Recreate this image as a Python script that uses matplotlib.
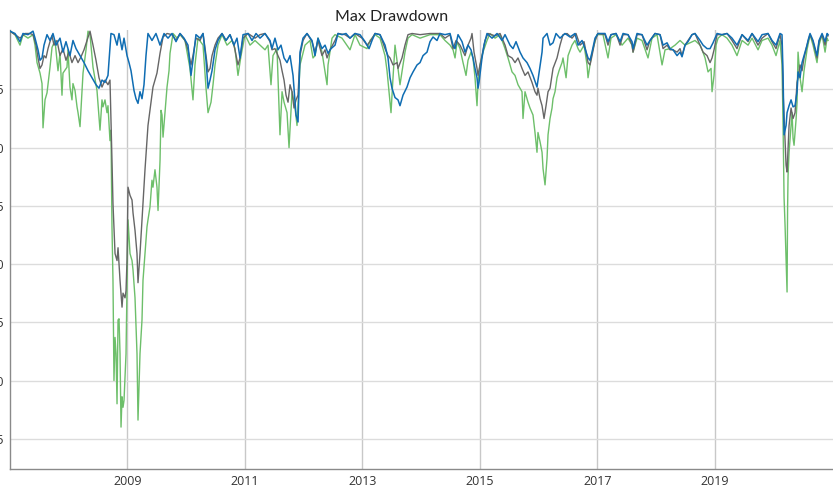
import matplotlib
matplotlib.use("Agg")
import matplotlib.pyplot as plt

# ---- data (decimal year, drawdown fraction) ----
blue_dates = [2007.000, 2007.085, 2007.170, 2007.221, 2007.306, 2007.392, 2007.426, 2007.477, 2007.511, 2007.545,
              2007.579, 2007.630, 2007.681, 2007.732, 2007.783, 2007.851, 2007.902, 2007.953, 2008.021, 2008.072,
              2008.124, 2008.192, 2008.260, 2008.328, 2008.396, 2008.464, 2008.515, 2008.566, 2008.617, 2008.668,
              2008.719, 2008.770, 2008.822, 2008.856, 2008.907, 2008.941, 2008.992, 2009.026, 2009.060, 2009.111,
              2009.145, 2009.179, 2009.213, 2009.247, 2009.281, 2009.315, 2009.349, 2009.417, 2009.485, 2009.554,
              2009.622, 2009.690, 2009.758, 2009.826, 2009.894, 2009.962, 2010.030, 2010.081, 2010.115, 2010.166,
              2010.235, 2010.286, 2010.337, 2010.371, 2010.405, 2010.439, 2010.490, 2010.541, 2010.609, 2010.677,
              2010.745, 2010.813, 2010.864, 2010.916, 2010.967, 2011.052, 2011.120, 2011.188, 2011.256, 2011.341,
              2011.426, 2011.460, 2011.511, 2011.562, 2011.613, 2011.665, 2011.716, 2011.767, 2011.818, 2011.869,
              2011.903, 2011.937, 2011.988, 2012.056, 2012.141, 2012.192, 2012.243, 2012.311, 2012.363, 2012.414,
              2012.465, 2012.533, 2012.584, 2012.652, 2012.720, 2012.788, 2012.873, 2012.958, 2013.044, 2013.112,
              2013.163, 2013.214, 2013.299, 2013.384, 2013.435, 2013.469, 2013.503, 2013.554, 2013.605, 2013.639,
              2013.690, 2013.758, 2013.810, 2013.861, 2013.929, 2013.980, 2014.031, 2014.099, 2014.150, 2014.201,
              2014.269, 2014.320, 2014.405, 2014.491, 2014.542, 2014.576, 2014.627, 2014.695, 2014.746, 2014.797,
              2014.848, 2014.882, 2014.916, 2014.950, 2014.967, 2014.984, 2015.035, 2015.069, 2015.120, 2015.206,
              2015.291, 2015.376, 2015.427, 2015.512, 2015.563, 2015.614, 2015.682, 2015.733, 2015.801, 2015.852,
              2015.903, 2015.971, 2015.988, 2016.023, 2016.057, 2016.074, 2016.142, 2016.193, 2016.244, 2016.295,
              2016.363, 2016.448, 2016.533, 2016.618, 2016.670, 2016.738, 2016.789, 2016.840, 2016.874, 2016.908,
              2016.959, 2017.010, 2017.129, 2017.180, 2017.231, 2017.317, 2017.385, 2017.436, 2017.521, 2017.589,
              2017.606, 2017.674, 2017.759, 2017.844, 2017.895, 2017.980, 2018.066, 2018.117, 2018.185, 2018.236,
              2018.287, 2018.355, 2018.406, 2018.440, 2018.491, 2018.542, 2018.610, 2018.661, 2018.747, 2018.798,
              2018.866, 2018.917, 2018.968, 2019.036, 2019.121, 2019.206, 2019.291, 2019.376, 2019.462, 2019.564,
              2019.632, 2019.734, 2019.802, 2019.904, 2019.972, 2020.040, 2020.108, 2020.142, 2020.160, 2020.177,
              2020.211, 2020.228, 2020.262, 2020.296, 2020.330, 2020.364, 2020.398, 2020.415, 2020.449, 2020.483,
              2020.517, 2020.568, 2020.585, 2020.619, 2020.670, 2020.738, 2020.772, 2020.824, 2020.875, 2020.909,
              2020.926]
blue_dd = [0, -0.002, -0.009, -0.002, -0.003, 0, -0.006, -0.016, -0.025, -0.023,
           -0.012, -0.003, -0.008, -0.002, -0.012, -0.006, -0.018, -0.009, -0.021, -0.008,
           -0.015, -0.021, -0.027, -0.034, -0.040, -0.046, -0.049, -0.042, -0.044, -0.038,
           -0.002, -0.003, -0.012, -0.002, -0.016, -0.006, -0.021, -0.027, -0.034, -0.051,
           -0.058, -0.062, -0.052, -0.058, -0.046, -0.021, -0.002, -0.008, -0.002, -0.012,
           -0.002, -0.006, -0.002, -0.009, -0.002, -0.006, -0.012, -0.038, -0.025, -0.003,
           -0.006, -0.002, -0.025, -0.049, -0.042, -0.034, -0.016, -0.008, -0.002, -0.008,
           -0.003, -0.012, -0.006, -0.023, -0.003, -0.002, -0.008, -0.002, -0.006, -0.002,
           -0.008, -0.015, -0.006, -0.016, -0.012, -0.023, -0.027, -0.021, -0.038, -0.072,
           -0.078, -0.018, -0.006, -0.002, -0.008, -0.021, -0.006, -0.015, -0.012, -0.019,
           -0.015, -0.012, -0.002, -0.003, -0.002, -0.006, -0.002, -0.003, -0.009, -0.015,
           -0.008, -0.002, -0.003, -0.012, -0.023, -0.040, -0.049, -0.057, -0.059, -0.064,
           -0.055, -0.048, -0.040, -0.035, -0.029, -0.027, -0.021, -0.018, -0.009, -0.005,
           -0.008, -0.002, -0.003, -0.002, -0.012, -0.015, -0.003, -0.009, -0.018, -0.012,
           -0.016, -0.023, -0.032, -0.040, -0.049, -0.044, -0.023, -0.012, -0.002, -0.006,
           -0.002, -0.008, -0.003, -0.012, -0.015, -0.009, -0.018, -0.023, -0.027, -0.032,
           -0.038, -0.048, -0.042, -0.029, -0.018, -0.006, -0.002, -0.012, -0.010, -0.002,
           -0.006, -0.002, -0.005, -0.002, -0.012, -0.008, -0.015, -0.023, -0.025, -0.018,
           -0.006, -0.002, -0.002, -0.009, -0.003, -0.002, -0.009, -0.002, -0.003, -0.009,
           -0.015, -0.002, -0.003, -0.012, -0.008, -0.002, -0.003, -0.012, -0.010, -0.015,
           -0.016, -0.021, -0.018, -0.022, -0.012, -0.009, -0.003, -0.002, -0.008, -0.012,
           -0.015, -0.015, -0.010, -0.002, -0.003, -0.002, -0.006, -0.012, -0.003, -0.008,
           -0.002, -0.009, -0.003, -0.002, -0.008, -0.012, -0.002, -0.003, -0.038, -0.089,
           -0.081, -0.070, -0.064, -0.059, -0.065, -0.064, -0.052, -0.035, -0.040, -0.027,
           -0.021, -0.012, -0.008, -0.002, -0.008, -0.021, -0.008, -0.002, -0.009, -0.002,
           -0.003]

gray_dates = [2007.000, 2007.170, 2007.255, 2007.340, 2007.392, 2007.443, 2007.477, 2007.511, 2007.545, 2007.579,
              2007.613, 2007.647, 2007.681, 2007.715, 2007.749, 2007.800, 2007.851, 2007.902, 2007.953, 2008.004,
              2008.055, 2008.107, 2008.158, 2008.209, 2008.260, 2008.311, 2008.362, 2008.413, 2008.464, 2008.515,
              2008.566, 2008.617, 2008.668, 2008.702, 2008.719, 2008.736, 2008.753, 2008.788, 2008.822, 2008.839,
              2008.873, 2008.907, 2008.924, 2008.958, 2008.975, 2008.992, 2009.009, 2009.043, 2009.077, 2009.094,
              2009.128, 2009.162, 2009.179, 2009.213, 2009.247, 2009.298, 2009.332, 2009.349, 2009.383, 2009.434,
              2009.502, 2009.554, 2009.605, 2009.673, 2009.758, 2009.826, 2009.894, 2009.979, 2010.030, 2010.081,
              2010.115, 2010.166, 2010.235, 2010.286, 2010.337, 2010.371, 2010.405, 2010.439, 2010.490, 2010.541,
              2010.609, 2010.677, 2010.745, 2010.813, 2010.881, 2010.916, 2010.967, 2011.052, 2011.171, 2011.256,
              2011.341, 2011.426, 2011.460, 2011.511, 2011.562, 2011.596, 2011.631, 2011.665, 2011.699, 2011.733,
              2011.767, 2011.801, 2011.835, 2011.869, 2011.903, 2011.937, 2011.988, 2012.056, 2012.141, 2012.192,
              2012.243, 2012.311, 2012.363, 2012.397, 2012.448, 2012.533, 2012.584, 2012.703, 2012.788, 2012.873,
              2012.992, 2013.078, 2013.129, 2013.214, 2013.299, 2013.384, 2013.435, 2013.469, 2013.520, 2013.588,
              2013.605, 2013.673, 2013.724, 2013.775, 2013.844, 2013.980, 2014.150, 2014.320, 2014.405, 2014.491,
              2014.542, 2014.593, 2014.661, 2014.746, 2014.797, 2014.848, 2014.865, 2014.899, 2014.950, 2014.967,
              2015.001, 2015.035, 2015.086, 2015.137, 2015.257, 2015.342, 2015.427, 2015.478, 2015.546, 2015.597,
              2015.648, 2015.716, 2015.767, 2015.818, 2015.886, 2015.937, 2015.971, 2015.988, 2016.023, 2016.057,
              2016.091, 2016.125, 2016.159, 2016.193, 2016.244, 2016.312, 2016.363, 2016.414, 2016.483, 2016.567,
              2016.635, 2016.704, 2016.772, 2016.840, 2016.874, 2016.908, 2016.959, 2017.010, 2017.129, 2017.180,
              2017.231, 2017.317, 2017.385, 2017.436, 2017.521, 2017.589, 2017.606, 2017.674, 2017.759, 2017.844,
              2017.895, 2017.980, 2018.066, 2018.117, 2018.185, 2018.236, 2018.287, 2018.355, 2018.406, 2018.440,
              2018.491, 2018.542, 2018.610, 2018.661, 2018.747, 2018.798, 2018.866, 2018.917, 2018.951, 2018.985,
              2019.036, 2019.121, 2019.206, 2019.291, 2019.376, 2019.462, 2019.564, 2019.632, 2019.734, 2019.802,
              2019.904, 2019.972, 2020.040, 2020.108, 2020.142, 2020.160, 2020.194, 2020.211, 2020.228, 2020.245,
              2020.262, 2020.296, 2020.330, 2020.364, 2020.398, 2020.415, 2020.449, 2020.483, 2020.517, 2020.568,
              2020.619, 2020.670, 2020.738, 2020.772, 2020.824, 2020.875, 2020.909, 2020.926]
gray_dd = [0, -0.006, -0.002, -0.002, -0.003, -0.012, -0.023, -0.032, -0.029, -0.021,
           -0.023, -0.015, -0.009, -0.004, -0.012, -0.008, -0.021, -0.015, -0.025, -0.018,
           -0.027, -0.021, -0.027, -0.022, -0.016, -0.008, 0, -0.012, -0.025, -0.040,
           -0.048, -0.042, -0.046, -0.042, -0.076, -0.111, -0.148, -0.191, -0.197, -0.186,
           -0.214, -0.237, -0.225, -0.229, -0.223, -0.197, -0.134, -0.141, -0.145, -0.156,
           -0.171, -0.191, -0.216, -0.191, -0.162, -0.119, -0.094, -0.081, -0.068, -0.048,
           -0.036, -0.019, -0.005, -0.002, -0.003, -0.008, -0.002, -0.008, -0.016, -0.029,
           -0.021, -0.006, -0.008, -0.002, -0.021, -0.035, -0.032, -0.021, -0.012, -0.006,
           -0.002, -0.008, -0.003, -0.012, -0.029, -0.023, -0.006, -0.002, -0.006, -0.003,
           -0.002, -0.009, -0.016, -0.015, -0.021, -0.025, -0.034, -0.042, -0.055, -0.061,
           -0.046, -0.052, -0.066, -0.059, -0.055, -0.021, -0.008, -0.002, -0.009, -0.018,
           -0.008, -0.021, -0.016, -0.023, -0.016, -0.008, -0.002, -0.003, -0.006, -0.002,
           -0.006, -0.012, -0.009, -0.002, -0.003, -0.015, -0.021, -0.023, -0.029, -0.027,
           -0.032, -0.023, -0.012, -0.003, -0.002, -0.003, -0.002, -0.002, -0.006, -0.003,
           -0.015, -0.008, -0.012, -0.021, -0.012, -0.006, -0.002, -0.018, -0.032, -0.038,
           -0.029, -0.021, -0.008, -0.002, -0.004, -0.002, -0.012, -0.021, -0.023, -0.027,
           -0.023, -0.032, -0.038, -0.035, -0.044, -0.052, -0.055, -0.049, -0.058, -0.064,
           -0.075, -0.064, -0.052, -0.049, -0.032, -0.023, -0.012, -0.003, -0.002, -0.006,
           -0.002, -0.012, -0.009, -0.027, -0.029, -0.021, -0.008, -0.002, -0.003, -0.012,
           -0.003, -0.002, -0.012, -0.003, -0.003, -0.012, -0.018, -0.003, -0.003, -0.016,
           -0.008, -0.002, -0.003, -0.015, -0.012, -0.016, -0.016, -0.018, -0.015, -0.021,
           -0.012, -0.008, -0.003, -0.002, -0.012, -0.018, -0.021, -0.027, -0.023, -0.016,
           -0.003, -0.003, -0.002, -0.008, -0.015, -0.003, -0.009, -0.002, -0.012, -0.006,
           -0.002, -0.009, -0.015, -0.003, -0.012, -0.052, -0.095, -0.115, -0.121, -0.102,
           -0.081, -0.066, -0.075, -0.070, -0.044, -0.040, -0.029, -0.034, -0.023, -0.012,
           -0.003, -0.009, -0.023, -0.009, -0.003, -0.012, -0.003, -0.004]

green_dates = [2007.000, 2007.085, 2007.170, 2007.221, 2007.306, 2007.392, 2007.426, 2007.460, 2007.511, 2007.545,
               2007.562, 2007.596, 2007.630, 2007.681, 2007.715, 2007.766, 2007.800, 2007.817, 2007.851, 2007.885,
               2007.902, 2007.970, 2007.987, 2008.021, 2008.055, 2008.072, 2008.107, 2008.141, 2008.158, 2008.192,
               2008.226, 2008.243, 2008.294, 2008.328, 2008.362, 2008.413, 2008.481, 2008.532, 2008.566, 2008.583,
               2008.617, 2008.651, 2008.668, 2008.702, 2008.719, 2008.736, 2008.753, 2008.770, 2008.788, 2008.805,
               2008.822, 2008.839, 2008.856, 2008.873, 2008.890, 2008.907, 2008.924, 2008.941, 2008.975, 2008.992,
               2009.009, 2009.043, 2009.077, 2009.094, 2009.128, 2009.162, 2009.179, 2009.213, 2009.247, 2009.264,
               2009.298, 2009.332, 2009.349, 2009.383, 2009.417, 2009.434, 2009.468, 2009.502, 2009.520, 2009.554,
               2009.571, 2009.588, 2009.605, 2009.639, 2009.673, 2009.707, 2009.724, 2009.758, 2009.775, 2009.843,
               2009.894, 2009.979, 2010.064, 2010.115, 2010.149, 2010.200, 2010.286, 2010.337, 2010.371, 2010.422,
               2010.456, 2010.490, 2010.541, 2010.609, 2010.694, 2010.779, 2010.830, 2010.881, 2010.933, 2011.001,
               2011.086, 2011.171, 2011.256, 2011.341, 2011.392, 2011.443, 2011.477, 2011.545, 2011.596, 2011.631,
               2011.665, 2011.716, 2011.750, 2011.801, 2011.852, 2011.886, 2011.937, 2012.022, 2012.107, 2012.158,
               2012.192, 2012.243, 2012.311, 2012.363, 2012.397, 2012.414, 2012.482, 2012.533, 2012.652, 2012.788,
               2012.873, 2012.958, 2013.078, 2013.129, 2013.214, 2013.299, 2013.384, 2013.418, 2013.452, 2013.486,
               2013.520, 2013.554, 2013.588, 2013.605, 2013.639, 2013.673, 2013.724, 2013.775, 2013.844, 2013.980,
               2014.150, 2014.320, 2014.405, 2014.491, 2014.542, 2014.576, 2014.610, 2014.661, 2014.712, 2014.763,
               2014.797, 2014.848, 2014.882, 2014.916, 2014.950, 2014.967, 2015.001, 2015.052, 2015.120, 2015.172,
               2015.257, 2015.342, 2015.427, 2015.478, 2015.546, 2015.597, 2015.648, 2015.716, 2015.733, 2015.767,
               2015.818, 2015.852, 2015.903, 2015.937, 2015.971, 2015.988, 2016.023, 2016.057, 2016.074, 2016.108,
               2016.142, 2016.159, 2016.193, 2016.227, 2016.244, 2016.278, 2016.312, 2016.346, 2016.397, 2016.414,
               2016.466, 2016.500, 2016.567, 2016.618, 2016.670, 2016.704, 2016.772, 2016.823, 2016.840, 2016.891,
               2016.925, 2016.993, 2017.095, 2017.180, 2017.231, 2017.317, 2017.419, 2017.521, 2017.589, 2017.606,
               2017.674, 2017.759, 2017.861, 2017.929, 2018.014, 2018.100, 2018.151, 2018.236, 2018.321, 2018.406,
               2018.491, 2018.576, 2018.661, 2018.747, 2018.781, 2018.832, 2018.883, 2018.934, 2018.951, 2018.985,
               2019.019, 2019.053, 2019.121, 2019.206, 2019.291, 2019.376, 2019.462, 2019.564, 2019.632, 2019.734,
               2019.802, 2019.904, 2019.972, 2020.040, 2020.108, 2020.142, 2020.160, 2020.177, 2020.194, 2020.211,
               2020.228, 2020.237, 2020.245, 2020.262, 2020.296, 2020.313, 2020.330, 2020.347, 2020.381, 2020.398,
               2020.415, 2020.449, 2020.483, 2020.517, 2020.568, 2020.619, 2020.670, 2020.738, 2020.772, 2020.824,
               2020.875, 2020.909, 2020.926]
green_dd = [0, -0.003, -0.012, -0.003, -0.006, -0.003, -0.012, -0.027, -0.036, -0.045,
            -0.083, -0.059, -0.053, -0.031, -0.014, -0.008, -0.025, -0.034, -0.019, -0.055,
            -0.036, -0.031, -0.016, -0.048, -0.059, -0.045, -0.051, -0.065, -0.070, -0.082,
            -0.051, -0.036, -0.016, 0, -0.003, -0.031, -0.051, -0.085, -0.059, -0.065,
            -0.059, -0.070, -0.064, -0.094, -0.085, -0.168, -0.214, -0.300, -0.263, -0.277,
            -0.320, -0.248, -0.247, -0.277, -0.340, -0.314, -0.323, -0.317, -0.277, -0.220,
            -0.162, -0.191, -0.197, -0.205, -0.229, -0.277, -0.334, -0.277, -0.248, -0.214,
            -0.191, -0.168, -0.162, -0.151, -0.128, -0.134, -0.119, -0.134, -0.154, -0.111,
            -0.068, -0.072, -0.091, -0.070, -0.048, -0.034, -0.019, -0.008, -0.002, -0.006,
            -0.003, -0.008, -0.032, -0.059, -0.029, -0.006, -0.012, -0.049, -0.070, -0.061,
            -0.046, -0.029, -0.012, -0.003, -0.012, -0.008, -0.015, -0.038, -0.021, -0.003,
            -0.012, -0.008, -0.012, -0.016, -0.012, -0.046, -0.021, -0.015, -0.089, -0.052,
            -0.061, -0.070, -0.100, -0.052, -0.066, -0.081, -0.029, -0.012, -0.008, -0.023,
            -0.021, -0.006, -0.018, -0.035, -0.046, -0.029, -0.006, -0.003, -0.006, -0.016,
            -0.003, -0.012, -0.015, -0.008, -0.003, -0.006, -0.021, -0.034, -0.052, -0.070,
            -0.040, -0.012, -0.025, -0.032, -0.046, -0.035, -0.018, -0.006, -0.003, -0.006,
            -0.003, -0.003, -0.008, -0.012, -0.016, -0.023, -0.009, -0.015, -0.027, -0.038,
            -0.025, -0.018, -0.023, -0.040, -0.064, -0.044, -0.029, -0.018, -0.008, -0.002,
            -0.006, -0.003, -0.015, -0.023, -0.035, -0.038, -0.046, -0.052, -0.075, -0.052,
            -0.061, -0.066, -0.072, -0.087, -0.104, -0.087, -0.095, -0.104, -0.118, -0.132,
            -0.109, -0.089, -0.075, -0.066, -0.058, -0.052, -0.040, -0.034, -0.027, -0.023,
            -0.040, -0.021, -0.012, -0.008, -0.015, -0.018, -0.012, -0.029, -0.040, -0.023,
            -0.015, -0.003, -0.003, -0.023, -0.006, -0.003, -0.012, -0.006, -0.012, -0.018,
            -0.006, -0.008, -0.023, -0.006, -0.003, -0.029, -0.016, -0.015, -0.012, -0.008,
            -0.012, -0.010, -0.008, -0.012, -0.016, -0.023, -0.035, -0.032, -0.052, -0.038,
            -0.012, -0.006, -0.003, -0.006, -0.012, -0.021, -0.008, -0.012, -0.006, -0.016,
            -0.008, -0.006, -0.012, -0.021, -0.008, -0.029, -0.081, -0.143, -0.167, -0.195,
            -0.224, -0.152, -0.124, -0.104, -0.081, -0.070, -0.092, -0.098, -0.076, -0.061,
            -0.018, -0.040, -0.052, -0.034, -0.016, -0.003, -0.012, -0.027, -0.012, -0.003,
            -0.018, -0.006, -0.008]

year_ticks = [2009, 2011, 2013, 2015, 2017, 2019]
year_labels = ["2009", "2011", "2013", "2015", "2017", "2019"]
dd_ticks = [-0.05, -0.10, -0.15, -0.20, -0.25, -0.30, -0.35]
title = "Max Drawdown"

# ---- figure ----
W, H = 833, 491
fig = plt.figure(figsize=(W / 100, H / 100), dpi=100)
ax = fig.add_axes([10 / W, (H - 469) / H, 1 - 10 / W, (469 - 30) / H])

ax.plot(green_dates, green_dd, color="#6dbf6a", lw=1.0, zorder=3)
ax.plot(gray_dates, gray_dd, color="#666666", lw=1.0, zorder=4)
ax.plot(blue_dates, blue_dd, color="#0f6db3", lw=1.1, zorder=5)

ax.set_xlim(2007.0, 2021.01)
ax.set_ylim(-0.376, 0.001)

ax.set_xticks(year_ticks)
ax.set_xticklabels(year_labels)
ax.set_yticks(dd_ticks)
ax.set_yticklabels([f"{v:.2f}" for v in dd_ticks])

for lab in ax.get_xticklabels() + ax.get_yticklabels():
    lab.set_fontfamily(["Open Sans", "DejaVu Sans"])
    lab.set_fontsize(9)
    lab.set_color("#333333")

ax.tick_params(axis="both", length=0, pad=4)
ax.grid(axis="y", color="#dcdcdc", lw=1.0, zorder=0)
ax.grid(axis="x", color="#c8c8c8", lw=1.0, zorder=0)
ax.set_axisbelow(True)

for s in ["top", "right"]:
    ax.spines[s].set_visible(False)
for s in ["left", "bottom"]:
    ax.spines[s].set_color("#8a8a8a")
    ax.spines[s].set_linewidth(1.0)

fig.text(392 / W, 1 - 17 / H, title, ha="center", va="center",
         fontsize=11.5, family=["Lato", "DejaVu Sans"], color="#222222")

fig.savefig("out.png", dpi=100)
